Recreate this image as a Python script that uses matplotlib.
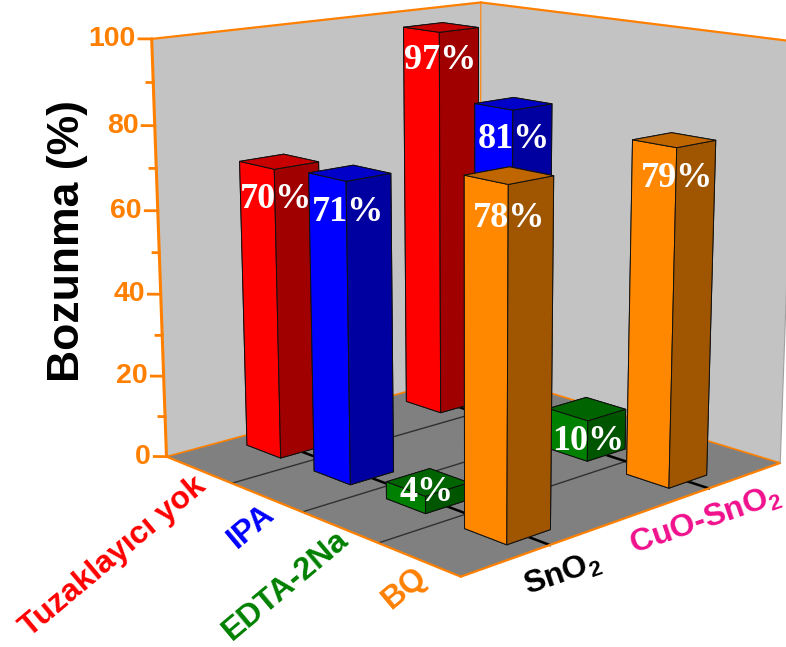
import matplotlib
matplotlib.use("Agg")
import matplotlib.pyplot as plt
from mpl_toolkits.mplot3d import proj3d
from mpl_toolkits.mplot3d.art3d import Poly3DCollection

plt.rcParams['mathtext.fontset'] = 'custom'
plt.rcParams['mathtext.bf'] = 'Liberation Sans:bold'
plt.rcParams['mathtext.rm'] = 'Liberation Sans:bold'

# Degradation values per scavenger and catalyst
scavengers = ['Tuzaklayıcı yok', 'IPA', 'EDTA-2Na', 'BQ']
catalysts = ['SnO$_{\\mathbf{2}}$', 'CuO-SnO$_{\\mathbf{2}}$']
sno2_values = [70, 71, 4, 78]
cuo_sno2_values = [97, 81, 10, 79]
z_ticks = [0, 20, 40, 60, 80, 100]
z_minor_ticks = [10, 30, 50, 70, 90]

ORANGE = '#FF8000'
scavenger_colors = ['#FF0000', '#0000FF', '#008000', ORANGE]
catalyst_colors = ['black', '#F0108C']
# (front, side, top) shades of each bar
bar_shades = [('#FF0000', '#A00000', '#C80000'),
              ('#0000FF', '#0000A0', '#0000C8'),
              ('#008000', '#005500', '#006400'),
              ('#FF8800', '#A05500', '#C06600')]

W, H = 786, 647
fig = plt.figure(figsize=(W / 100, H / 100), dpi=100, facecolor='white')
SIDE, CX, CY = 740, 462, 265
ax = fig.add_axes([(CX - SIDE / 2) / W, 1 - (CY + SIDE / 2) / H, SIDE / W, SIDE / H],
                  projection='3d', computed_zorder=False)
ax.set_proj_type('persp', focal_length=0.53)
ax.view_init(elev=13.5, azim=-43.2)
ax.set_box_aspect((1, 1, 0.97))
ax.set_axis_off()
ax.patch.set_alpha(0)

x0, x1, y0, y1, z0, z1 = -0.5, 3.5, -0.5, 1.5, 0, 100
ax.set_xlim(x0, x1, view_margin=0)
ax.set_ylim(y0, y1, view_margin=0)
ax.set_zlim(z0, z1, view_margin=0)


def screen_label(x, y, z, text, offset, **style):
    """Place unprojected text at a pixel offset from a point of the scene."""
    px, py, _ = proj3d.proj_transform(x, y, z, ax.get_proj())
    ax.annotate(text, xy=(px, py), xycoords='data', xytext=offset,
                textcoords='offset pixels', annotation_clip=False,
                rotation_mode='anchor', **style)


# Floor and back walls
walls = [([(x0, y0, z0), (x1, y0, z0), (x1, y1, z0), (x0, y1, z0)], '#808080'),
         ([(x0, y0, z0), (x0, y1, z0), (x0, y1, z1), (x0, y0, z1)], '#C3C3C3'),
         ([(x0, y1, z0), (x1, y1, z0), (x1, y1, z1), (x0, y1, z1)], '#C3C3C3')]
for verts, col in walls:
    ax.add_collection3d(Poly3DCollection([verts], facecolor=col, edgecolor='none', zorder=1))

# Floor grid: separators between scavengers and centre lines of the catalysts
for i in range(len(scavengers) - 1):
    ax.plot([i + 0.5] * 2, [y0, y1], [0, 0], color='#303030', lw=1.0, zorder=2)
for j in range(len(catalysts)):
    ax.plot([x0, x1], [j, j], [0, 0], color='black', lw=1.8, zorder=2)

# Box outline
outline = [([x0, x0], [y0, y0], [z0, z1], 2.2), ([x0, x0], [y0, y1], [z1, z1], 1.6),
           ([x0, x1], [y1, y1], [z1, z1], 1.6), ([x0, x1], [y0, y0], [z0, z0], 1.6),
           ([x1, x1], [y0, y1], [z0, z0], 1.6), ([x0, x0], [y0, y1], [z0, z0], 1.2),
           ([x0, x1], [y1, y1], [z0, z0], 1.2), ([x0, x0], [y1, y1], [z0, z1], 0.8),
           ]
for xs, ys, zs, lw in outline:
    ax.plot(xs, ys, zs, color=ORANGE, lw=lw, zorder=3, solid_capstyle='round')
ax.plot([x1, x1], [y1, y1], [z0, z1], color='#A0A0A0', lw=0.8, zorder=3)

# Bars, painted from the back of the scene to the front
BAR_DX, BAR_DY = 0.51, 0.255
series = [sno2_values, cuo_sno2_values]
order = sorted(((i, j) for i in range(4) for j in range(2)), key=lambda p: p[0] - p[1] * 2)
for rank, (i, j) in enumerate(order):
    front, side, top = bar_shades[i]
    v = series[j][i]
    # face order of bar3d: -z, +z, -y, +y, -x, +x
    ax.bar3d(i - BAR_DX / 2, j - BAR_DY / 2, 0, BAR_DX, BAR_DY, v,
             color=[top, top, front, side, front, side], shade=False,
             edgecolor='#101010', linewidth=0.7, zorder=10 + rank * 2)
    screen_label(i + BAR_DX / 2, j - BAR_DY / 2, max(v - 7, 5), f'{v}%', (1, 0),
                 family='Liberation Serif', weight='bold', size=26, color='white',
                 ha='center', va='center', zorder=11 + rank * 2)

# Percentage axis drawn on the left corner of the box
for tick in z_ticks + z_minor_ticks:
    major = tick in z_ticks
    reach = 0.02 if major else 0.01
    ax.plot([x0, x0 - reach * (x1 - x0)], [y0, y0 - reach * (y1 - y0)], [tick, tick],
            color=ORANGE, lw=2.0, zorder=3)
    if major:
        screen_label(x0, y0, tick, str(tick), (-16, 0), family='Liberation Sans',
                     weight='bold', size=20.5, color=ORANGE, ha='right', va='center')
fig.text(67 / W, 1 - 241 / H, 'Bozunma (%)', family='Liberation Sans', weight='bold',
         size=32, rotation=90, ha='center', va='center', color='black')

# Category labels along the two floor edges
scavenger_offsets = [(4, -13), (4, -13), (5, -9), (4, -13)]
for i, (name, col) in enumerate(zip(scavengers, scavenger_colors)):
    screen_label(i, y0, 0, name, scavenger_offsets[i], family='Liberation Sans', weight='bold',
                 size=23, color=col, rotation=40, ha='right', va='center')
catalyst_offsets = [(13, -29), (-3, -32)]
for j, (name, col) in enumerate(zip(catalysts, catalyst_colors)):
    screen_label(x1, j, 0, name, catalyst_offsets[j], family='Liberation Sans', weight='bold',
                 size=23, color=col, rotation=19, ha='center', va='center')

fig.savefig('out.png', dpi=100)
